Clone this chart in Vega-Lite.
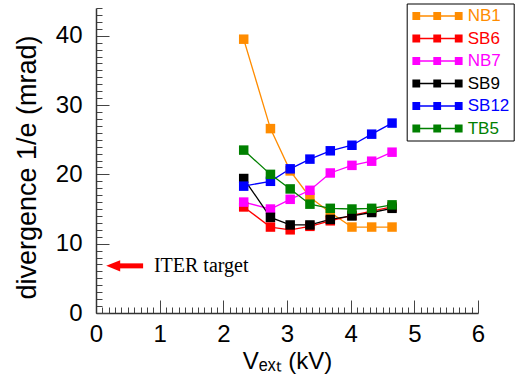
{
  "$schema": "https://vega.github.io/schema/vega-lite/v6.json",
  "width": 382,
  "height": 305,
  "autosize": {"type": "none"},
  "padding": {"left": 96, "top": 8, "right": 38, "bottom": 66},
  "background": "white",
  "config": {
    "view": {"stroke": null},
    "axis": {
      "grid": false,
      "domainColor": "#333333",
      "domainWidth": 1.5,
      "tickColor": "#444444",
      "tickWidth": 1,
      "labelFont": "Liberation Sans",
      "titleFont": "Liberation Sans",
      "labelColor": "black",
      "titleColor": "black",
      "titleFontWeight": "normal",
      "labelOverlap": false,
      "labelFlush": false
    }
  },
  "datasets": {
    "series": [
      {"s": "NB1", "v": 2.32, "d": 39.5}, {"s": "NB1", "v": 2.74, "d": 26.6}, {"s": "NB1", "v": 3.05, "d": 20.5}, {"s": "NB1", "v": 3.36, "d": 16.7},
      {"s": "NB1", "v": 3.68, "d": 14.5}, {"s": "NB1", "v": 4.02, "d": 12.4}, {"s": "NB1", "v": 4.33, "d": 12.4}, {"s": "NB1", "v": 4.65, "d": 12.4},
      {"s": "SB6", "v": 2.32, "d": 15.3}, {"s": "SB6", "v": 2.74, "d": 12.4}, {"s": "SB6", "v": 3.05, "d": 12.0}, {"s": "SB6", "v": 3.36, "d": 12.5},
      {"s": "SB6", "v": 3.68, "d": 13.3}, {"s": "SB6", "v": 4.02, "d": 14.1}, {"s": "SB6", "v": 4.33, "d": 14.7}, {"s": "SB6", "v": 4.65, "d": 15.3},
      {"s": "NB7", "v": 2.32, "d": 16.0}, {"s": "NB7", "v": 2.74, "d": 15.0}, {"s": "NB7", "v": 3.05, "d": 16.4}, {"s": "NB7", "v": 3.36, "d": 17.7},
      {"s": "NB7", "v": 3.68, "d": 20.2}, {"s": "NB7", "v": 4.02, "d": 21.3}, {"s": "NB7", "v": 4.33, "d": 21.9}, {"s": "NB7", "v": 4.65, "d": 23.2},
      {"s": "SB9", "v": 2.32, "d": 19.4}, {"s": "SB9", "v": 2.74, "d": 13.8}, {"s": "SB9", "v": 3.05, "d": 12.7}, {"s": "SB9", "v": 3.36, "d": 12.7},
      {"s": "SB9", "v": 3.68, "d": 13.5}, {"s": "SB9", "v": 4.02, "d": 14.0}, {"s": "SB9", "v": 4.33, "d": 14.5}, {"s": "SB9", "v": 4.65, "d": 15.1},
      {"s": "SB12", "v": 2.32, "d": 18.3}, {"s": "SB12", "v": 2.74, "d": 19.0}, {"s": "SB12", "v": 3.05, "d": 20.8}, {"s": "SB12", "v": 3.36, "d": 22.2},
      {"s": "SB12", "v": 3.68, "d": 23.4}, {"s": "SB12", "v": 4.02, "d": 24.2}, {"s": "SB12", "v": 4.33, "d": 25.8}, {"s": "SB12", "v": 4.65, "d": 27.4},
      {"s": "TB5", "v": 2.32, "d": 23.5}, {"s": "TB5", "v": 2.74, "d": 20.0}, {"s": "TB5", "v": 3.05, "d": 17.9}, {"s": "TB5", "v": 3.36, "d": 15.7},
      {"s": "TB5", "v": 3.68, "d": 15.1}, {"s": "TB5", "v": 4.02, "d": 15.0}, {"s": "TB5", "v": 4.33, "d": 15.1}, {"s": "TB5", "v": 4.65, "d": 15.6}
    ]
  },
  "layer": [
    {
      "data": {"name": "series"},
      "mark": {"type": "line", "strokeWidth": 1.3},
      "encoding": {
        "x": {
          "field": "v", "type": "quantitative",
          "scale": {"domain": [0, 6], "nice": false, "zero": false},
          "axis": {
            "title": "Vₑₓₜ (kV)",
            "titleFontSize": 24,
            "titlePadding": -4,
            "labelFontSize": 24,
            "labelPadding": 22,
            "labelOverlap": false,
            "tickCount": 200,
            "values": [0,0.1,0.2,0.3,0.4,0.5,0.6,0.7,0.8,0.9,1,1.1,1.2,1.3,1.4,1.5,1.6,1.7,1.8,1.9,2,2.1,2.2,2.3,2.4,2.5,2.6,2.7,2.8,2.9,3,3.1,3.2,3.3,3.4,3.5,3.6,3.7,3.8,3.9,4,4.1,4.2,4.3,4.4,4.5,4.6,4.7,4.8,4.9,5,5.1,5.2,5.3,5.4,5.5,5.6,5.7,5.8,5.9,6],
            "labelExpr": "abs(datum.value - round(datum.value)) < 0.001 ? format(datum.value, 'd') : ''",
            "tickSize": {"condition": {"test": "abs(datum.value - round(datum.value)) < 0.001", "value": -13}, "value": -6}
          }
        },
        "y": {
          "field": "d", "type": "quantitative",
          "scale": {"domain": [0, 44], "nice": false, "zero": false},
          "axis": {
            "title": "divergence 1/e (mrad)",
            "titleFontSize": 27,
            "titlePadding": 14,
            "titleY": 159,
            "labelFontSize": 24,
            "labelPadding": 27,
            "labelOverlap": false,
            "tickCount": 200,
            "values": [0,1,2,3,4,5,6,7,8,9,10,11,12,13,14,15,16,17,18,19,20,21,22,23,24,25,26,27,28,29,30,31,32,33,34,35,36,37,38,39,40,41,42,43,44],
            "labelExpr": "datum.value % 10 === 0 ? format(datum.value, 'd') : ''",
            "tickSize": {"condition": {"test": "datum.value % 10 === 0", "value": -13}, "value": -6}
          }
        },
        "color": {
          "field": "s", "type": "nominal",
          "scale": {"domain": ["NB1", "SB6", "NB7", "SB9", "SB12", "TB5"], "range": ["#ff8c00", "#ff0000", "#ff00ff", "#000000", "#0000ff", "#008000"]},
          "legend": {
            "orient": "none",
            "legendX": 310.7,
            "legendY": -4.5,
            "title": null,
            "symbolType": "M-1.36,-0.78H0.2V0.78H-1.36Z M2.82,-0.78H4.38V0.78H2.82Z M7.12,-0.78H8.68V0.78H7.12Z M-0.58,-0.15H7.9V0.15H-0.58Z",
            "symbolSize": 100,
            "symbolStrokeWidth": 0,
            "symbolOpacity": 1,
            "labelFont": "Liberation Sans",
            "labelFontSize": 17,
            "labelOffset": 40,
            "padding": 4,
            "rowPadding": 4.5,
            "strokeColor": "black",
            "fillColor": "white",
            "encode": {
              "symbols": {"update": {"fill": {"scale": "color", "field": "value"}, "opacity": {"value": 1}, "strokeWidth": {"value": 0}}},
              "labels": {"update": {"fill": {"scale": "color", "field": "value"}}}
            }
          }
        }
      }
    },
    {
      "data": {"name": "series"},
      "mark": {"type": "point", "shape": "square", "filled": true, "size": 90, "opacity": 1},
      "encoding": {
        "x": {"field": "v", "type": "quantitative"},
        "y": {"field": "d", "type": "quantitative"},
        "color": {"field": "s", "type": "nominal"}
      }
    },
    {
      "data": {"values": [{"v": 0.35, "v2": 0.74, "d": 6.8}]},
      "mark": {"type": "rule", "color": "red", "strokeWidth": 5},
      "encoding": {
        "x": {"field": "v", "type": "quantitative"},
        "x2": {"field": "v2"},
        "y": {"field": "d", "type": "quantitative"}
      }
    },
    {
      "data": {"values": [{"v": 0.27, "d": 6.8}]},
      "mark": {"type": "point", "shape": "M-1,0L1,-0.8L1,0.8Z", "filled": true, "color": "red", "size": 196, "opacity": 1},
      "encoding": {
        "x": {"field": "v", "type": "quantitative"},
        "y": {"field": "d", "type": "quantitative"}
      }
    },
    {
      "data": {"values": [{"v": 0.91, "d": 6.8, "label": "ITER target"}]},
      "mark": {"type": "text", "font": "Liberation Serif", "fontSize": 20, "align": "left", "baseline": "middle", "color": "black"},
      "encoding": {
        "x": {"field": "v", "type": "quantitative"},
        "y": {"field": "d", "type": "quantitative"},
        "text": {"field": "label"}
      }
    }
  ]
}
